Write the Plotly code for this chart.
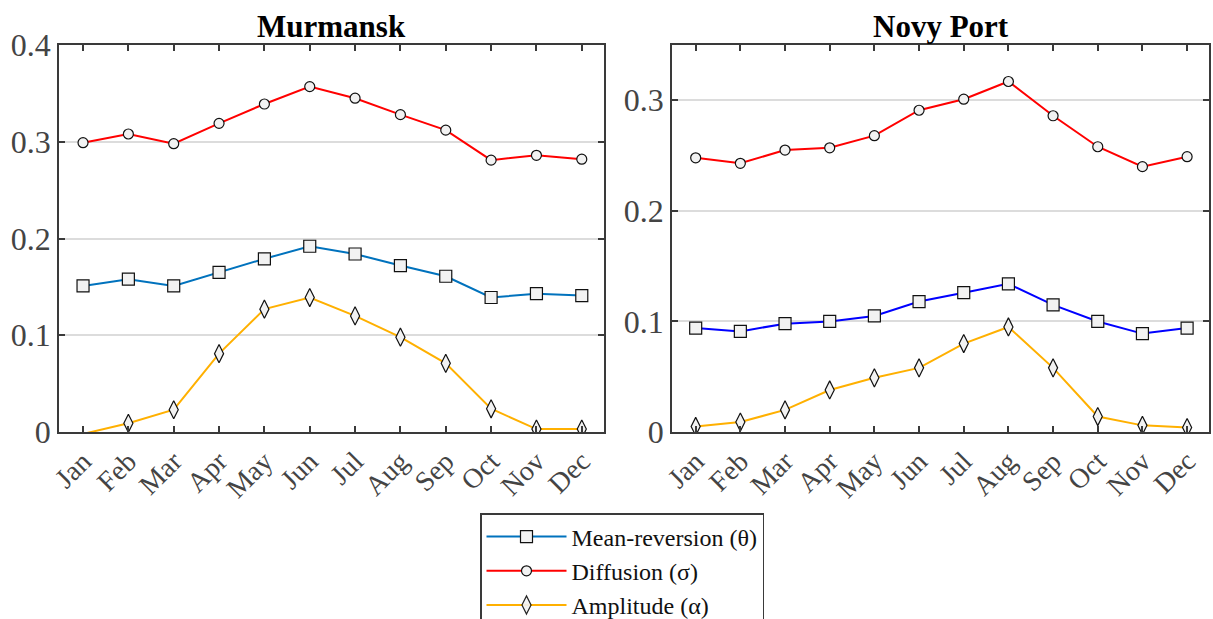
import plotly.graph_objects as go

months = ["Jan", "Feb", "Mar", "Apr", "May", "Jun", "Jul", "Aug", "Sep", "Oct", "Nov", "Dec"]
month_idx = list(range(1, 13))

# Murmansk
mur_theta = [0.151, 0.158, 0.151, 0.165, 0.179, 0.192, 0.184, 0.172, 0.161, 0.139, 0.143, 0.141]
mur_sigma = [0.299, 0.308, 0.298, 0.319, 0.339, 0.357, 0.345, 0.328, 0.312, 0.281, 0.286, 0.282]
mur_alpha = [-0.002, 0.009, 0.023, 0.081, 0.127, 0.139, 0.120, 0.098, 0.071, 0.024, 0.003, 0.003]

# Novy Port
nov_theta = [0.094, 0.091, 0.098, 0.100, 0.105, 0.118, 0.126, 0.134, 0.115, 0.100, 0.089, 0.094]
nov_sigma = [0.248, 0.243, 0.255, 0.257, 0.268, 0.291, 0.301, 0.317, 0.286, 0.258, 0.240, 0.249]
nov_alpha = [0.005, 0.009, 0.020, 0.038, 0.049, 0.058, 0.080, 0.095, 0.058, 0.014, 0.006, 0.004]

titles = ["Murmansk", "Novy Port"]
series_names = ["Mean-reversion (θ)", "Diffusion (σ)", "Amplitude (α)"]
y_ticks_left = [0, 0.1, 0.2, 0.3, 0.4]
y_ticks_right = [0, 0.1, 0.2, 0.3]

FONT = "Liberation Serif"
AXC = "#3a3a3a"
MFILL = "#f2f2f2"

fig = go.Figure()

def add_series(xa, ya, y, name, color, symbol, size, showlegend):
    op = [1 if v >= 0 else 0 for v in y]
    fig.add_trace(go.Scatter(
        x=month_idx, y=y, name=name, mode="lines+markers",
        xaxis=xa, yaxis=ya, showlegend=showlegend, legendgroup=name,
        line=dict(color=color, width=2),
        marker=dict(symbol=symbol, size=size, color=MFILL, opacity=op,
                    line=dict(color="#111111", width=1.2)),
    ))

add_series("x", "y", mur_theta, series_names[0], "#0072BD", "square", 12, True)
add_series("x", "y", mur_sigma, series_names[1], "#FF0000", "circle", 10, True)
add_series("x", "y", mur_alpha, series_names[2], "#FFB000", "diamond-tall", 13, True)
add_series("x2", "y2", nov_theta, series_names[0], "#0000FF", "square", 12, False)
add_series("x2", "y2", nov_sigma, series_names[1], "#FF0000", "circle", 10, False)
add_series("x2", "y2", nov_alpha, series_names[2], "#FFB000", "diamond-tall", 13, False)

W, H = 1213, 619
top_px, bot_px = 45, 432
ydom = [1 - bot_px / H, 1 - top_px / H]
xdom1 = [59 / W, 604 / W]
xdom2 = [672 / W, 1209 / W]

xcommon = dict(
    tickmode="array", tickvals=month_idx, ticktext=months, tickangle=-45,
    range=[0.47, 12.49], showgrid=False, zeroline=False, automargin=False,
    showline=True, linecolor=AXC, linewidth=1.5, mirror="allticks",
    ticks="inside", ticklen=6, tickcolor=AXC, tickwidth=1.5,
    tickfont=dict(family=FONT, size=28, color="#444444"),
)
ycommon = dict(
    showgrid=True, gridcolor="#dcdcdc", gridwidth=2, zeroline=False, automargin=False,
    showline=True, linecolor=AXC, linewidth=1.5, mirror="allticks",
    ticks="inside", ticklen=6, tickcolor=AXC, tickwidth=1.5,
    tickfont=dict(family=FONT, size=32, color="#444444"),
)

fig.update_layout(
    width=W, height=H,
    margin=dict(l=0, r=0, t=0, b=0, autoexpand=False),
    paper_bgcolor="white", plot_bgcolor="white",
    xaxis=dict(domain=xdom1, anchor="y", **xcommon),
    yaxis=dict(domain=ydom, anchor="x", range=[0, 0.4], tickvals=y_ticks_left,
               ticktext=["0", "0.1", "0.2", "0.3", "0.4"], **ycommon),
    xaxis2=dict(domain=xdom2, anchor="y2", **xcommon),
    yaxis2=dict(domain=ydom, anchor="x2", range=[0, 0.35], tickvals=y_ticks_right,
                ticktext=["0", "0.1", "0.2", "0.3"], **ycommon),
    legend=dict(
        x=480 / W, y=1 - 513 / H, xanchor="left", yanchor="top",
        bgcolor="white", bordercolor=AXC, borderwidth=1.5,
        font=dict(family=FONT, size=24, color="#111111"),
        itemwidth=80, tracegroupgap=0,
    ),
    showlegend=True,
)

for i, t in enumerate(titles):
    dom = xdom1 if i == 0 else xdom2
    fig.add_annotation(
        text=f"<b>{t}</b>", x=(dom[0] + dom[1]) / 2, y=1 - 27 / H,
        xref="paper", yref="paper", showarrow=False,
        xanchor="center", yanchor="middle",
        font=dict(family=FONT, size=31, color="#000000"),
    )

fig.write_html("out.html")
